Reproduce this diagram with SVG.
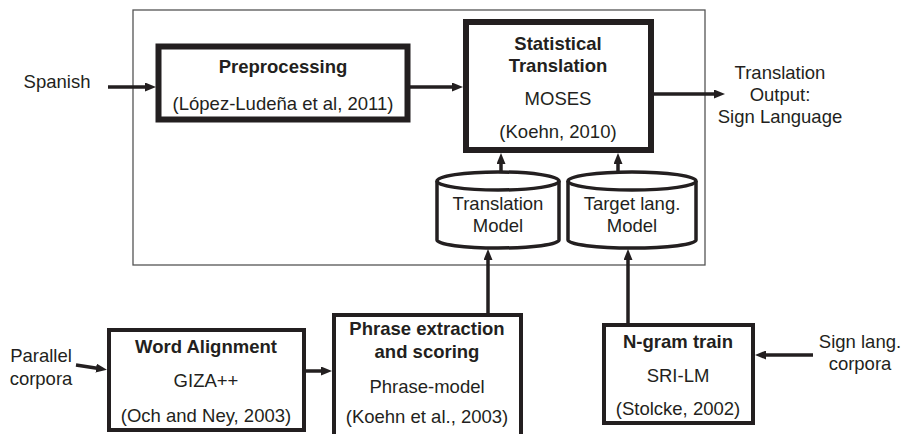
<svg xmlns="http://www.w3.org/2000/svg" width="904" height="434" viewBox="0 0 904 434">
<style>
text{font-family:"Liberation Sans",Arial,sans-serif;font-size:18.5px;fill:#231f20;text-anchor:middle}
.b{font-weight:bold}
.box{fill:#fff;stroke:#231f20}
.thick{stroke-width:6}
.med{stroke-width:4}
.cyl{fill:#fff;stroke:#231f20;stroke-width:3.5}
.arr{stroke:#231f20;stroke-width:3.5;fill:none;marker-end:url(#ah)}
</style>
<defs>
<marker id="ah" markerUnits="userSpaceOnUse" markerWidth="11" markerHeight="9" refX="6" refY="4.5" orient="auto">
<path d="M0,0 L11,4.5 L0,9 z" fill="#231f20"/>
</marker>
</defs>
<rect width="904" height="434" fill="#fff"/>
<g id="frame"><rect x="133" y="10" width="572" height="255" fill="none" stroke="#555" stroke-width="1.3"/></g>

<g id="preprocessing">
<rect class="box thick" x="158.5" y="46.5" width="249" height="73"/>
<text class="b" x="283" y="73">Preprocessing</text>
<text x="283" y="110">(López-Ludeña et al, 2011)</text>
</g>

<g id="statistical">
<rect class="box thick" x="466" y="22" width="185" height="128"/>
<text class="b" x="558" y="50">Statistical</text>
<text class="b" x="558" y="72">Translation</text>
<text x="558" y="105">MOSES</text>
<text x="558" y="138">(Koehn, 2010)</text>
</g>

<g id="translation-model">
<path class="cyl" d="M437,181 L437,240 A61,8 0 0 0 559,240 L559,181"/>
<ellipse class="cyl" cx="498" cy="181" rx="61" ry="9"/>
<text x="498" y="210">Translation</text>
<text x="498" y="232">Model</text>
</g>

<g id="target-model">
<path class="cyl" d="M568,181 L568,240 A64,8 0 0 0 696,240 L696,181"/>
<ellipse class="cyl" cx="632" cy="181" rx="64" ry="9"/>
<text x="632" y="210">Target lang.</text>
<text x="632" y="232">Model</text>
</g>

<g id="word-alignment">
<rect class="box med" x="109" y="330" width="195" height="100"/>
<text class="b" x="206" y="353">Word Alignment</text>
<text x="206" y="387">GIZA++</text>
<text x="206" y="422">(Och and Ney, 2003)</text>
</g>

<g id="phrase-extraction">
<rect class="box med" x="334" y="315" width="187" height="130"/>
<text class="b" x="427" y="335">Phrase extraction</text>
<text class="b" x="427" y="358">and scoring</text>
<text x="427" y="393">Phrase-model</text>
<text x="427" y="423">(Koehn et al., 2003)</text>
</g>

<g id="ngram">
<rect class="box med" x="604" y="325" width="149" height="98"/>
<text class="b" x="678" y="348">N-gram train</text>
<text x="678" y="382">SRI-LM</text>
<text x="678" y="415">(Stolcke, 2002)</text>
</g>

<g id="labels">
<text x="57" y="88">Spanish</text>
<text x="780" y="79">Translation</text>
<text x="780" y="101">Output:</text>
<text x="780" y="123">Sign Language</text>
<text x="41" y="362">Parallel</text>
<text x="41" y="385">corpora</text>
<text x="860" y="348">Sign lang.</text>
<text x="860" y="370">corpora</text>
</g>

<g id="connectors">
<line class="arr" x1="108" y1="87" x2="151" y2="87"/>
<line class="arr" x1="410" y1="87" x2="458" y2="87"/>
<line class="arr" x1="654" y1="94" x2="720" y2="94"/>
<line class="arr" x1="501" y1="172" x2="501" y2="158"/>
<line class="arr" x1="618" y1="172" x2="618" y2="158"/>
<line class="arr" x1="488" y1="313" x2="488" y2="254"/>
<line class="arr" x1="628" y1="323" x2="628" y2="254"/>
<line class="arr" x1="76" y1="365" x2="102" y2="369"/>
<line class="arr" x1="306" y1="371" x2="327" y2="371"/>
<line class="arr" x1="813" y1="355" x2="760" y2="355"/>
</g>
</svg>
